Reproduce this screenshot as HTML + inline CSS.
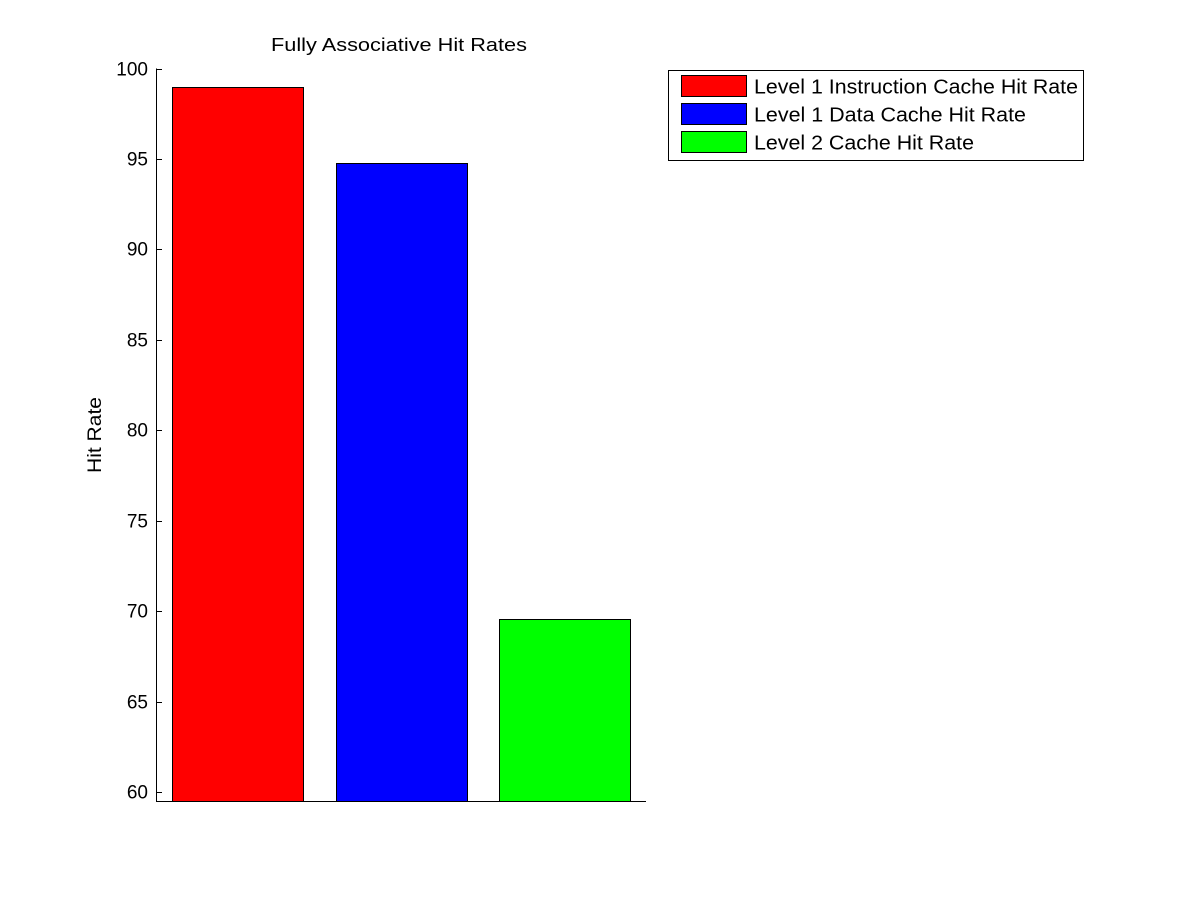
<!DOCTYPE html>
<html><head><meta charset="utf-8"><style>
html,body{margin:0;padding:0;background:#fff;}
svg{display:block;font-family:"Liberation Sans",Arial,sans-serif;}
</style></head><body>
<svg id="chart" width="1200" height="900" viewBox="0 0 1200 900">
<rect width="1200" height="900" fill="#fff"/>
<text x="399" y="51" font-size="18" text-anchor="middle" textLength="256" lengthAdjust="spacingAndGlyphs">Fully Associative Hit Rates</text>
<text transform="translate(101,435) rotate(-90)" font-size="19" text-anchor="middle" textLength="76" lengthAdjust="spacingAndGlyphs">Hit Rate</text>
<g id="bars"></g>
<g id="axes"></g>
<g>
<rect x="668.5" y="70.5" width="415" height="90" fill="#fff" stroke="#000"/>
<g id="legend-entries"></g>
</g>
</svg>
<script>
const categories = ["Level 1 Instruction Cache Hit Rate","Level 1 Data Cache Hit Rate","Level 2 Cache Hit Rate"];
const values = [99.0, 94.8, 69.55];
const colors = ["#ff0000","#0000ff","#00ff00"];
const yTicks = [60,65,70,75,80,85,90,95,100];
const NS="http://www.w3.org/2000/svg";
const plotLeft=156, plotRight=646, yTop=68.5, yBot=792, bottomPx=801;
const yMin=60, yMax=100, xMin=0.5, xMax=3.5;
function yS(v){return yBot-(v-yMin)/(yMax-yMin)*(yBot-yTop);}
function xS(v){return plotLeft+(v-xMin)/(xMax-xMin)*(plotRight-plotLeft);}
function mk(t,a,p){const e=document.createElementNS(NS,t);for(const k in a)e.setAttribute(k,a[k]);p.appendChild(e);return e;}
const bars=document.getElementById('bars');
values.forEach((v,i)=>{
  const x0=xS(i+1-0.4),x1=xS(i+1+0.4),y=yS(v);
  const r=mk('rect',{x:Math.round(x0)+0.5,y:Math.round(y)+0.5,width:Math.round(x1-x0),height:bottomPx-Math.round(y),fill:colors[i],stroke:'#000','stroke-width':1},bars);
  
  
});
const axes=document.getElementById('axes');
const yl=mk('line',{x1:plotLeft+0.5,y1:yTop,x2:plotLeft+0.5,y2:bottomPx+0.5,stroke:'#000'},axes);


const xl=mk('line',{x1:plotLeft,y1:bottomPx+0.5,x2:plotRight,y2:bottomPx+0.5,stroke:'#000'},axes);


yTicks.forEach(t=>{
  const y=Math.round(yS(t))+0.5;
  const l=mk('line',{x1:plotLeft,y1:y,x2:plotLeft+6,y2:y,stroke:'#000'},axes);
  
  
  const tx=mk('text',{x:plotLeft-8,y:y+6,'font-size':19,'text-anchor':'end'},axes);
  tx.textContent=t;
  
  
});
const le=document.getElementById('legend-entries');
const legLens=[324,272,220];
categories.forEach((c,i)=>{
  const y=75.5+i*28;
  const s=mk('rect',{x:681.5,y:y,width:65,height:21,fill:colors[i],stroke:'#000'},le);
  
  
  const t=mk('text',{x:754,y:y+18,'font-size':20,textLength:legLens[i],lengthAdjust:'spacingAndGlyphs'},le);
  t.textContent=c;
  
  
});
</script>
</body></html>
